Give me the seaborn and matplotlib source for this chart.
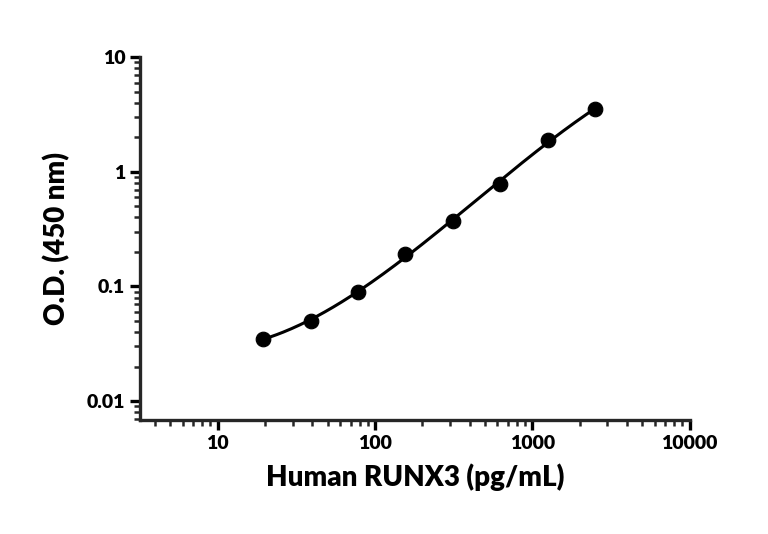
import numpy as np
import matplotlib
matplotlib.use("Agg")
import matplotlib.pyplot as plt
import seaborn as sns
from matplotlib.ticker import LogLocator, NullFormatter, FixedLocator, FixedFormatter

conc = [19.5, 39, 78, 156, 312, 625, 1250, 2500]
od = [0.035, 0.050, 0.090, 0.19, 0.375, 0.79, 1.9, 3.5]

sns.set_style("ticks")
plt.rcParams['font.family'] = ['Lato', 'DejaVu Sans']
fig = plt.figure(figsize=(7.68, 5.34), dpi=100)
ax = fig.add_axes([0.182, 0.213, 0.716, 0.68])

lx, ly = np.log10(conc), np.log10(od)
coef = np.polyfit(lx, ly, 3)
xs = np.linspace(lx[0], lx[-1], 200)
sns.lineplot(x=10**xs, y=10**np.polyval(coef, xs), ax=ax, color='black', lw=2.2)
sns.scatterplot(x=conc, y=od, ax=ax, color='black', s=110, zorder=5, edgecolor='black')

ax.set_xscale('log'); ax.set_yscale('log')
ax.set_xlim(3.2, 10000); ax.set_ylim(0.0068, 10)
ax.xaxis.set_major_locator(FixedLocator([10, 100, 1000, 10000]))
ax.xaxis.set_major_formatter(FixedFormatter(['10', '100', '1000', '10000']))
ax.xaxis.set_minor_locator(LogLocator(base=10, subs=np.arange(2, 10)))
ax.xaxis.set_minor_formatter(NullFormatter())
ax.yaxis.set_major_locator(FixedLocator([0.01, 0.1, 1, 10]))
ax.yaxis.set_major_formatter(FixedFormatter(['0.01', '0.1', '1', '10']))
ax.yaxis.set_minor_locator(LogLocator(base=10, subs=np.arange(2, 10)))
ax.yaxis.set_minor_formatter(NullFormatter())
for s in ['top', 'right']:
    ax.spines[s].set_visible(False)
for s in ['left', 'bottom']:
    ax.spines[s].set_linewidth(2.4)
ax.tick_params(which='major', length=7, width=2.4, labelsize=14, colors='black')
ax.tick_params(which='minor', length=4, width=1.8)
for t in ax.get_xticklabels() + ax.get_yticklabels():
    t.set_fontweight('heavy')
ax.set_xlabel('Human RUNX3 (pg/mL)', fontsize=20, fontweight='heavy', labelpad=8, color='black')
ax.set_ylabel('O.D. (450 nm)', fontsize=20, fontweight='heavy', labelpad=12, color='black')
fig.savefig('out.png', dpi=100)
